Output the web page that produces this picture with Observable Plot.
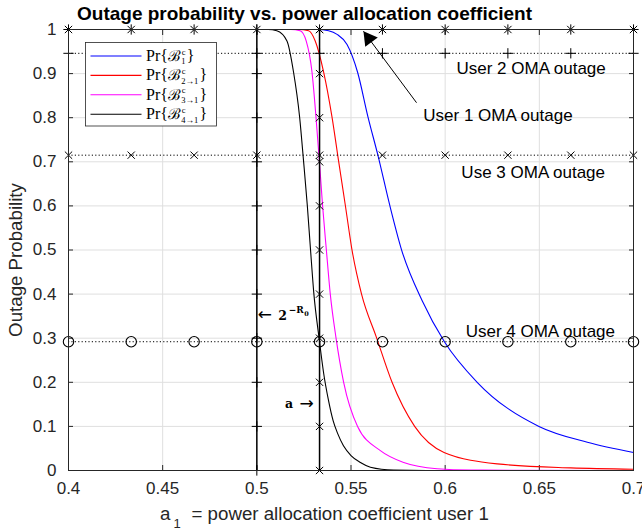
<!DOCTYPE html>
<html><head><meta charset="utf-8">
<script src="https://cdn.jsdelivr.net/npm/d3@7"></script>
<script src="https://cdn.jsdelivr.net/npm/@observablehq/plot@0.6"></script>
<style>body{margin:0;background:#fff;} svg{display:block;}</style>
</head><body><div id="chart"></div>
<script>
// ---------- data ----------
const xTicks = [0.4, 0.45, 0.5, 0.55, 0.6, 0.65, 0.7];
const yTicks = [0, 0.1, 0.2, 0.3, 0.4, 0.5, 0.6, 0.7, 0.8, 0.9, 1];
const markerX = [0.4, 0.4333, 0.4667, 0.5, 0.5333, 0.5667, 0.6, 0.6333, 0.6667, 0.7];

// OMA outage levels (horizontal dotted lines)
const omaName   = ["User 1 OMA outage", "User 2 OMA outage", "Use 3 OMA outage", "User 4 OMA outage"];
const omaLevel  = [1.0, 0.946, 0.715, 0.292];
const omaMarker = ["star", "plus", "times", "circle"];

// vertical reference lines
const vName   = ["2^-R0", "a"];
const vX      = [0.5, 0.5333];
const vMarker = ["plus", "times"];

// curves
const b1X  = [0.40, 0.532, 0.5381, 0.5426, 0.5479, 0.5535, 0.559, 0.5644, 0.5706, 0.5768, 0.5878, 0.5996, 0.617, 0.6498, 0.6755, 0.70];
const b1Y  = [1, 1, 0.997, 0.989, 0.966, 0.903, 0.802, 0.713, 0.601, 0.501, 0.385, 0.292, 0.2, 0.1, 0.064, 0.041];
const b21X = [0.40, 0.522, 0.5275, 0.531, 0.5355, 0.5399, 0.5434, 0.547, 0.5505, 0.5556, 0.5635, 0.5718, 0.5838, 0.5994, 0.6277, 0.6667, 0.70];
const b21Y = [1, 1, 0.997, 0.974, 0.903, 0.802, 0.702, 0.601, 0.501, 0.4, 0.302, 0.2, 0.1, 0.041, 0.015, 0.006, 0.003];
const b31X = [0.40, 0.518, 0.523, 0.5262, 0.5293, 0.5314, 0.5332, 0.5349, 0.5369, 0.539, 0.542, 0.5461, 0.5535, 0.5656, 0.578, 0.5957, 0.6135, 0.70];
const b31Y = [1, 1, 0.997, 0.974, 0.903, 0.802, 0.702, 0.601, 0.501, 0.4, 0.302, 0.2, 0.1, 0.045, 0.018, 0.004, 0.001, 0];
const b41X = [0.40, 0.506, 0.5106, 0.516, 0.5195, 0.5227, 0.5248, 0.5268, 0.5285, 0.5303, 0.533, 0.5355, 0.538, 0.5405, 0.543, 0.546, 0.55, 0.555, 0.5603, 0.5727, 0.59, 0.70];
const b41Y = [1, 1, 0.997, 0.974, 0.903, 0.802, 0.702, 0.601, 0.501, 0.4, 0.302, 0.22, 0.16, 0.113, 0.083, 0.056, 0.034, 0.018, 0.0075, 0.001, 0, 0];

const seriesName  = ["B1", "B2to1", "B3to1", "B4to1"];
const seriesColor = ["#0000ff", "#ff0000", "#ff00ff", "#000000"];
const seriesSub   = ["1", "2\u21921", "3\u21921", "4\u21921"];

// annotation text anchors (data units)
const labelX = [0.5884, 0.606, 0.6086, 0.6109];
const labelY = [0.792, 0.898, 0.664, 0.302];
// arrow for "User 1 OMA outage"
const arrowTail = [0.5848, 0.834];
const arrowTip  = [0.5566, 0.996];
// math annotations anchors (data units)
const r0Anchor = [0.5, 0.352];
const aAnchor  = [0.5333, 0.149];

// ---------- tables ----------
const curves = [[b1X, b1Y], [b21X, b21Y], [b31X, b31Y], [b41X, b41Y]].map(([xs, ys], k) =>
  xs.map((x, i) => ({x, y: ys[i], s: seriesName[k]})));
const hMarkers = omaLevel.flatMap((lv, k) => markerX.map(x => ({x, y: lv, m: omaMarker[k]})));
const vMarkers = vX.flatMap((x, k) => yTicks.map(y => ({x, y, m: vMarker[k]})));
const allMarkers = hMarkers.concat(vMarkers);
const isPlus = d => d.m === "plus" || d.m === "star";
const isTimes = d => d.m === "times" || d.m === "star";
const labels = omaName.map((t, i) => ({t, x: labelX[i], y: labelY[i]}));

const sans = "'Liberation Sans', Arial, Helvetica, sans-serif";
const ink = "#262626";

const chart = Plot.plot({
  width: 642, height: 529,
  marginTop: 29, marginBottom: 59, marginLeft: 68, marginRight: 9,
  x: {domain: [0.4, 0.7]},
  y: {domain: [0, 1]},
  style: {background: "#fff", color: ink, fontFamily: sans, fontSize: "17px"},
  marks: [
    Plot.gridX(xTicks, {stroke: "#dfdfdf", strokeOpacity: 1}),
    Plot.gridY(yTicks, {stroke: "#dfdfdf", strokeOpacity: 1}),
    Plot.axisX({ticks: xTicks, anchor: "bottom", tickSize: -5, fill: "none", stroke: ink, label: null}),
    Plot.axisX({ticks: xTicks, anchor: "top", tickSize: -5, fill: "none", stroke: ink, label: null}),
    Plot.axisY({ticks: yTicks, anchor: "left", tickSize: -5, fill: "none", stroke: ink, label: null}),
    Plot.axisY({ticks: yTicks, anchor: "right", tickSize: -5, fill: "none", stroke: ink, label: null}),
    Plot.axisX({ticks: xTicks, anchor: "bottom", tickSize: 0, tickPadding: 11, label: null, tickFormat: d => String(d), fill: ink}),
    Plot.axisY({ticks: yTicks, anchor: "left", tickSize: 0, tickPadding: 12, label: null, tickFormat: d => String(d), fill: ink}),
    ...curves.map((c, k) => Plot.line(c, {x: "x", y: "y", stroke: seriesColor[k], strokeWidth: 1.1, curve: "monotone-x"})),
    Plot.ruleY(omaLevel, {y: d => d, stroke: "#000", strokeWidth: 1, strokeDasharray: "1.2,2.2"}),
    Plot.ruleX(vX, {x: d => d, y1: 0, y2: 1, stroke: "#000", strokeWidth: 1.5}),
    Plot.dot(allMarkers.filter(isPlus), {x: "x", y: "y", symbol: "plus", r: 3.4, stroke: "#000", strokeWidth: 1}),
    Plot.dot(allMarkers.filter(isTimes), {x: "x", y: "y", symbol: "times", r: 3.4, stroke: "#000", strokeWidth: 1}),
    Plot.dot(allMarkers.filter(d => d.m === "circle"), {x: "x", y: "y", symbol: "circle", r: 5.2, stroke: "#000", strokeWidth: 1.1, fill: "none"}),
    Plot.frame({stroke: ink}),
    Plot.text(labels, {x: "x", y: "y", text: "t", textAnchor: "start", lineAnchor: "bottom", fill: "#000", fontSize: 17}),
    Plot.link([{t: arrowTail, h: arrowTip}], {x1: d => d.t[0], y1: d => d.t[1], x2: d => d.h[0], y2: d => d.h[1], stroke: "#000", strokeWidth: 1}),
    Plot.dot([arrowTip], {x: d => d[0], y: d => d[1], symbol: "triangle", r: 5.8, fill: "#000", stroke: "none", rotate: -36.5, dx: 5.4, dy: 7.3})
  ]
});
document.getElementById("chart").append(chart);

const svg = d3.select(chart);
const sx = chart.scale("x"), sy = chart.scale("y");
const g = svg.append("g").attr("text-anchor", "start");
function put(str, x, y, o) {
  const t = g.append("text").attr("x", x).attr("y", y).text(str)
    .attr("text-anchor", o.anchor || "start")
    .attr("font-family", o.family || sans).attr("font-size", o.size)
    .attr("font-weight", o.weight || "normal").attr("fill", o.fill || "#000");
  return t.node().getComputedTextLength();
}

// title
put("Outage probability vs. power allocation coefficient", 77, 19.5, {size: 19, weight: "bold"});

// y label
g.append("text").attr("transform", "translate(21.5,260) rotate(-90)").attr("text-anchor", "middle")
  .attr("font-family", sans).attr("font-size", 18.7).attr("fill", ink).text("Outage Probability");

// x label
put("a", 160, 520, {size: 18.7, fill: ink});
put("1", 173.5, 527.5, {size: 13, fill: ink});
put("= power allocation coefficient user 1", 191.5, 520, {size: 18.7, fill: ink});

// math annotations
const serif = "'DejaVu Serif', 'Liberation Serif', serif";
const ax0 = sx.apply(r0Anchor[0]), ay0 = sy.apply(r0Anchor[1]);
put("\u2190", ax0 + 1.5, ay0 + 5, {size: 17, family: "'DejaVu Sans', sans-serif"});
put("2", ax0 + 22, ay0 + 5, {size: 12.5, family: serif, weight: "bold"});
const wR = put("\u2212R", ax0 + 32.5, ay0 - 1.5, {size: 9, family: serif, weight: "bold"});
put("0", ax0 + 32.5 + wR + 0.3, ay0 + 1, {size: 6.5, family: serif, weight: "bold"});

const ax1 = sx.apply(aAnchor[0]), ay1 = sy.apply(aAnchor[1]);
put("a", ax1 - 34, ay1 + 3.5, {size: 12.5, family: serif, weight: "bold"});
put("\u2192", ax1 - 19.5, ay1 + 4.5, {size: 17, family: "'DejaVu Sans', sans-serif"});

// legend
g.append("rect").attr("x", 85.5).attr("y", 42.5).attr("width", 131).attr("height", 83.5)
  .attr("fill", "#fff").attr("stroke", ink).attr("stroke-width", 0.8);
const lserif = "'Liberation Serif', 'DejaVu Serif', serif";
seriesName.forEach((s, i) => {
  const ly = 56 + i * 19.4;
  g.append("line").attr("x1", 90.5).attr("x2", 141.5).attr("y1", ly).attr("y2", ly)
    .attr("stroke", seriesColor[i]).attr("stroke-width", 1.1);
  const by = ly + 4.7;
  let x = 146;
  x += put("Pr{", x, by, {size: 16, family: lserif});
  x += put("\u212C", x, by, {size: 15, family: "'DejaVu Serif', serif"});
  const w1 = put("c", x + 0.8, by - 6.2, {size: 8.5, family: lserif});
  const w2 = put(seriesSub[i], x + 0.3, by + 3.6, {size: 8.5, family: lserif});
  x += Math.max(w1, w2) + 1.5;
  put("}", x, by, {size: 16, family: lserif});
});
</script>
</body></html>
